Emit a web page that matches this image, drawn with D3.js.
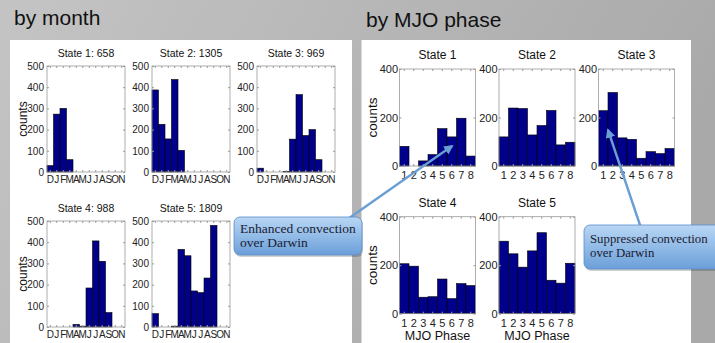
<!DOCTYPE html>
<html>
<head>
<meta charset="utf-8">
<script src="https://cdn.jsdelivr.net/npm/d3@7"></script>
<style>
  html, body { margin: 0; padding: 0; overflow: hidden; background: #bbb; }
  svg { display: block; font-family: 'Liberation Sans', Arial, sans-serif; }
</style>
</head>
<body>
<svg id="chart" width="715" height="343"></svg>
<script>
// ---- data ----
const monthLabels = ['D', 'J', 'F', 'M', 'A', 'M', 'J', 'J', 'A', 'S', 'O', 'N'];
const monthTitles = ['State 1: 658', 'State 2: 1305', 'State 3: 969', 'State 4: 988', 'State 5: 1809'];
const monthCounts = [
  [30, 273, 300, 58, 0, 0, 0, 0, 0, 0, 0, 0],
  [387, 225, 156, 436, 102, 0, 0, 0, 0, 0, 0, 0],
  [18, 0, 0, 0, 3, 155, 365, 172, 200, 58, 0, 0],
  [0, 0, 0, 0, 12, 4, 184, 406, 310, 68, 0, 0],
  [63, 0, 0, 4, 366, 336, 170, 162, 231, 479, 0, 0]
];
const monthTicks = [0, 100, 200, 300, 400, 500];

const phaseLabels = ['1', '2', '3', '4', '5', '6', '7', '8'];
const phaseTitles = ['State 1', 'State 2', 'State 3', 'State 4', 'State 5'];
const phaseCounts = [
  [81, 0, 21, 47, 154, 120, 197, 41],
  [120, 239, 237, 128, 167, 229, 87, 98],
  [228, 303, 116, 110, 32, 59, 51, 72],
  [206, 196, 68, 70, 143, 62, 124, 116],
  [299, 247, 192, 259, 334, 138, 126, 208]
];
const phaseTicks = [0, 200, 400];

const translate = (x, y) => `translate(${x}, ${y})`;
const svg = d3.select('#chart');
const defs = svg.append('defs');

// slide background
const bg = defs.append('linearGradient').attr('id', 'bg')
  .attr('x1', 0).attr('y1', 0).attr('x2', 1).attr('y2', 0.3);
bg.append('stop').attr('offset', 0).attr('stop-color', '#c4c4c4');
bg.append('stop').attr('offset', 1).attr('stop-color', '#a9a9a9');
svg.append('rect').attr('width', 715).attr('height', 343).attr('fill', 'url(#bg)');

// white panels
svg.append('rect').attr('x', 10).attr('y', 40).attr('width', 342).attr('height', 310).attr('fill', '#fff');
svg.append('rect').attr('x', 361.5).attr('y', 40).attr('width', 329.5).attr('height', 310).attr('fill', '#fff');

svg.append('text').attr('x', 14).attr('y', 25).style('font-size', '21px').attr('fill', '#111').text('by month');
svg.append('text').attr('x', 366).attr('y', 27).style('font-size', '21px').attr('fill', '#111').text('by MJO phase');

function drawHist(cfg) {
  const x = d3.scaleBand().domain(d3.range(cfg.counts.length)).range([0, cfg.w]);
  const y = d3.scaleLinear().domain([0, cfg.yMax]).range([cfg.h, 0]);
  const g = svg.append('g').attr('transform', translate(cfg.x, cfg.y));

  g.selectAll('.bar')
    .data(cfg.counts.map((v, i) => ({ v, i })).filter(d => d.v > 0))
    .enter().append('rect')
    .attr('class', 'bar')
    .attr('x', d => x(d.i))
    .attr('y', d => y(d.v))
    .attr('width', x.bandwidth())
    .attr('height', d => cfg.h - y(d.v))
    .attr('fill', '#00008b')
    .attr('stroke', '#000')
    .attr('stroke-width', 0.6);

  const yl = g.append('g').call(d3.axisLeft(y).tickValues(cfg.yTicks).tickSize(-2).tickPadding(cfg.yPad));
  const yr = g.append('g').attr('transform', translate(cfg.w, 0))
    .call(d3.axisRight(y).tickValues(cfg.yTicks).tickSize(-2).tickFormat(''));
  const xb = g.append('g').attr('transform', translate(0, cfg.h))
    .call(d3.axisBottom(x).tickSize(-2).tickPadding(cfg.xPad).tickFormat(i => cfg.labels[i]));
  const xt = g.append('g')
    .call(d3.axisTop(x).tickSize(-2).tickFormat(''));

  [yl, yr, xb, xt].forEach(a => {
    a.select('.domain').remove();
    a.selectAll('line').attr('stroke', '#999');
    a.selectAll('text').attr('fill', '#222').style('font-family', "'Liberation Sans', Arial, sans-serif")
      .style('font-size', cfg.tickSize + 'px');
  });

  g.append('rect').attr('width', cfg.w).attr('height', cfg.h)
    .attr('fill', 'none').attr('stroke', '#9a9a9a').attr('stroke-width', 0.8);

  g.append('text').attr('x', cfg.w / 2).attr('y', -cfg.titleGap)
    .attr('text-anchor', 'middle').style('font-size', cfg.titleSize + 'px').attr('fill', '#111')
    .text(cfg.title);

  if (cfg.ylabel) {
    g.append('text').attr('transform', translate(cfg.ylabelX, cfg.h / 2) + ' rotate(-90)')
      .attr('text-anchor', 'middle').style('font-size', cfg.ylabelSize + 'px').attr('fill', '#111')
      .text('counts');
  }
  if (cfg.xlabel) {
    g.append('text').attr('x', cfg.w / 2).attr('y', cfg.xlabelY)
      .attr('text-anchor', 'middle').style('font-size', '12.5px').attr('fill', '#111')
      .text(cfg.xlabel);
  }
}

// by month: 3 + 2 grid
const mCols = [47, 152, 257];
const mRows = [66, 221];
monthCounts.forEach((counts, k) => {
  const col = k % 3, row = Math.floor(k / 3);
  drawHist({
    x: mCols[col], y: mRows[row], w: 78, h: 106,
    counts, labels: monthLabels, yMax: 500, yTicks: monthTicks,
    yPad: 3, xPad: 4.2, tickSize: 10,
    title: monthTitles[k], titleSize: 10.5, titleGap: 8.7,
    ylabel: col === 0, ylabelX: -20.5, ylabelSize: 12
  });
});

// by MJO phase: 3 + 2 grid
const pCols = [399.5, 499, 598.5];
const pRows = [69, 216.7];
phaseCounts.forEach((counts, k) => {
  const col = k % 3, row = Math.floor(k / 3);
  drawHist({
    x: pCols[col], y: pRows[row], w: 76, h: 97,
    counts, labels: phaseLabels, yMax: 400, yTicks: phaseTicks,
    yPad: 1.5, xPad: 5.2, tickSize: 11,
    title: phaseTitles[k], titleSize: 12, titleGap: 10,
    ylabel: col === 0, ylabelX: -23, ylabelSize: 13.5,
    xlabel: row === 1 ? 'MJO Phase' : null, xlabelY: 340 - pRows[1]
  });
});

// callouts
const cg = defs.append('linearGradient').attr('id', 'callout').attr('x1', 0).attr('y1', 0).attr('x2', 0).attr('y2', 1);
cg.append('stop').attr('offset', 0).attr('stop-color', '#b9d7f5');
cg.append('stop').attr('offset', 1).attr('stop-color', '#6b9fd9');

const mk = defs.append('marker').attr('id', 'head').attr('viewBox', '0 0 10 10')
  .attr('refX', 8).attr('refY', 5).attr('markerWidth', 4).attr('markerHeight', 4).attr('orient', 'auto');
mk.append('path').attr('d', 'M0,0 L10,5 L0,10 Z').attr('fill', '#6a9fd3');

const arrows = [
  { x1: 345, y1: 221, x2: 452, y2: 146 },
  { x1: 641, y1: 228, x2: 608, y2: 130 }
];
svg.selectAll('.arrow').data(arrows).enter().append('line')
  .attr('x1', d => d.x1).attr('y1', d => d.y1).attr('x2', d => d.x2).attr('y2', d => d.y2)
  .attr('stroke', '#6a9fd3').attr('stroke-width', 2.4).attr('marker-end', 'url(#head)');

// second callout box runs off the right edge of the slide, as in the original
const callouts = [
  { x: 234, y: 217, w: 128, h: 38, lines: ['Enhanced convection', 'over Darwin'], tx: 240, ty: 232.7, fs: 13.5 },
  { x: 584, y: 225, w: 140, h: 44, lines: ['Suppressed convection', 'over Darwin'], tx: 590, ty: 243.3, fs: 12.8 }
];
callouts.forEach(c => {
  svg.append('rect').attr('x', c.x + 1).attr('y', c.y + 2).attr('width', c.w).attr('height', c.h)
    .attr('rx', 6).attr('fill', '#000').attr('opacity', 0.18);
  svg.append('rect').attr('x', c.x).attr('y', c.y).attr('width', c.w).attr('height', c.h)
    .attr('rx', 6).attr('fill', 'url(#callout)').attr('stroke', '#5a8ccc').attr('stroke-width', 0.8);
  c.lines.forEach((t, i) => {
    svg.append('text').attr('x', c.tx).attr('y', c.ty + i * 14)
      .style('font-family', "'Liberation Serif', 'Times New Roman', serif").style('font-size', c.fs + 'px')
      .attr('fill', '#1b1b33').text(t);
  });
});
</script>
</body>
</html>
